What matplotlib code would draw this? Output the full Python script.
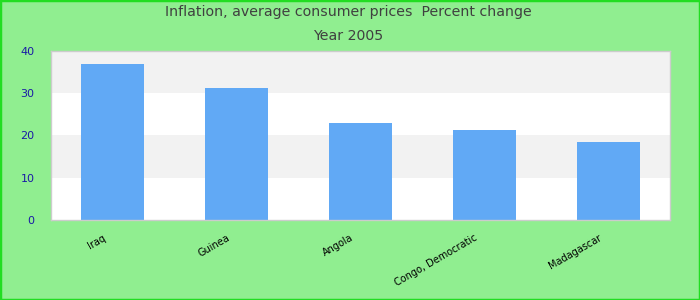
import matplotlib
matplotlib.use("Agg")
import matplotlib.pyplot as plt
import matplotlib.transforms as mtransforms
from matplotlib.patches import Rectangle

countries = ["Iraq", "Guinea", "Angola", "Congo, Democratic", "Madagascar"]
values = [36.9, 31.2, 23.0, 21.3, 18.5]
yticks = [0, 10, 20, 30, 40]

fig = plt.figure(figsize=(7, 3), dpi=100, facecolor="#90EE90")
fig.patches.append(Rectangle((0, 0), 1, 1, transform=fig.transFigure,
                             fill=False, edgecolor="#22dd22", linewidth=2.5))
ax = fig.add_axes([51/700, 1-220/300, (670-51)/700, (220-51)/300])
ax.set_facecolor("white")

for lo in (10, 30):
    ax.axhspan(lo, lo+10, color="#f2f2f2", zorder=0, linewidth=0)

x = list(range(len(countries)))
ax.bar(x, values, width=0.51, color="#61a9f5", zorder=2)
ax.set_xlim(-0.5, len(countries) - 0.5)
ax.set_ylim(0, 40)
ax.set_yticks(yticks)
ax.set_yticklabels([str(t) for t in yticks], color="#1a1aa6", fontsize=8)
ax.tick_params(axis="y", length=0, pad=12)
ax.tick_params(axis="x", length=0, pad=9)
ax.set_xticks(x)
labels = ax.set_xticklabels(countries, rotation=30, ha="right", fontsize=7, color="black")
offset = mtransforms.ScaledTranslation(-5/100, 0, fig.dpi_scale_trans)
for lab in labels:
    lab.set_transform(lab.get_transform() + offset)
for s in ax.spines.values():
    s.set_color("#cccccc")
    s.set_linewidth(1)

fig.text(0.497, 1-12/300, "Inflation, average consumer prices  Percent change",
         ha="center", va="center", fontsize=10.2, color="#404040")
fig.text(0.497, 1-35.5/300, "Year 2005", ha="center", va="center",
         fontsize=10.2, color="#404040")

fig.savefig("out.png", dpi=100, facecolor=fig.get_facecolor())
